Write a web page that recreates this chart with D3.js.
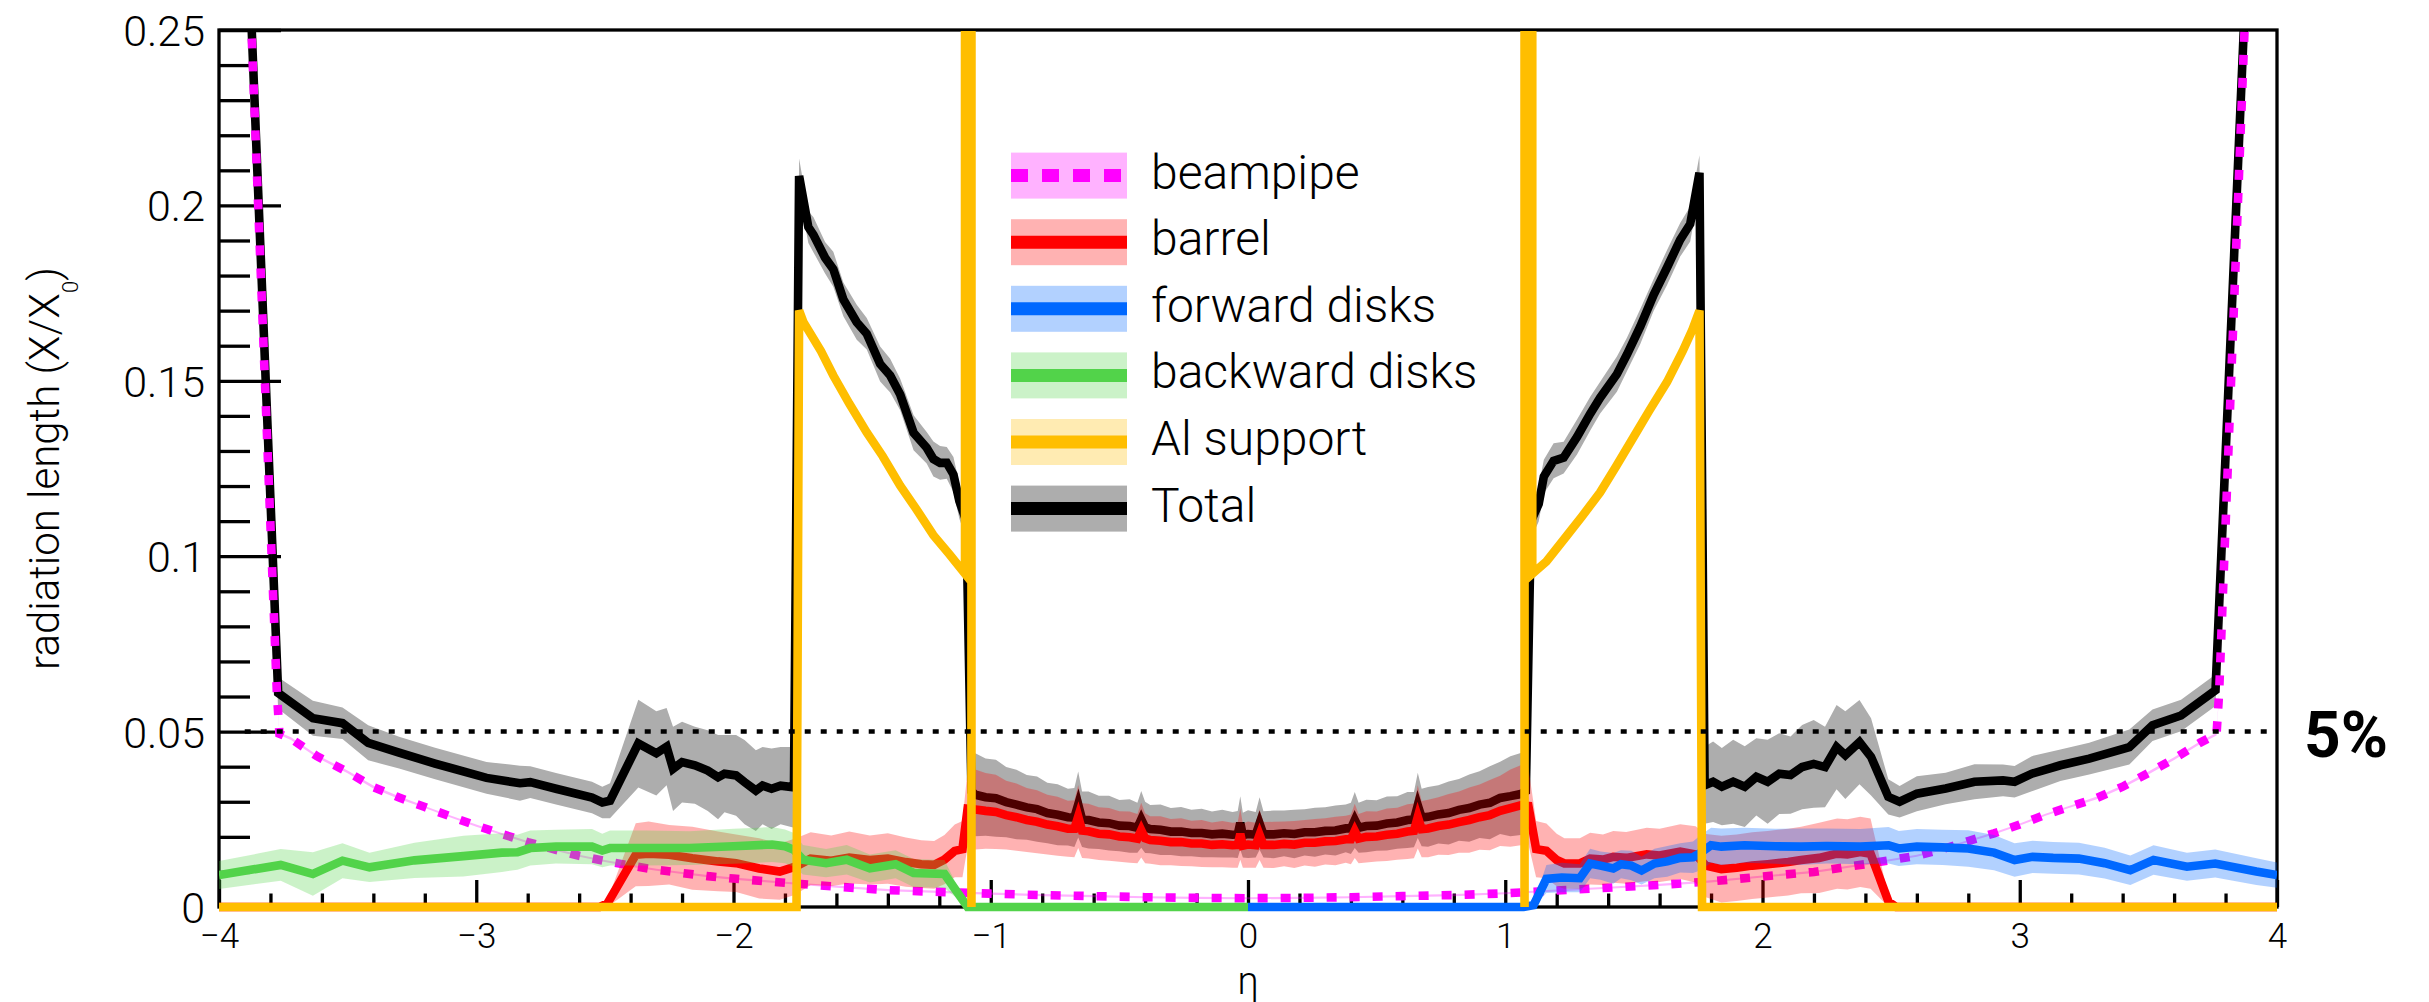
<!DOCTYPE html>
<html>
<head>
<meta charset="utf-8">
<script src="https://cdn.jsdelivr.net/npm/d3@7"></script>
<style>
  html, body { margin: 0; padding: 0; background: #fff; }
  svg { display: block; }
  text { font-family: Roboto, "Liberation Sans", Arial, sans-serif; font-weight: 300; fill: #000; }
</style>
</head>
<body>
<svg id="chart" width="2429" height="1002"></svg>
<script>
// ---------------- axis ticks ----------------
const etaTicks = [-4, -3, -2, -1, 0, 1, 2, 3, 4];
const etaTickLabels = ["\u22124", "\u22123", "\u22122", "\u22121", "0", "1", "2", "3", "4"];
const radTicks = [0, 0.05, 0.1, 0.15, 0.2, 0.25];
const radTickLabels = ["0", "0.05", "0.1", "0.15", "0.2", "0.25"];
const refLevel = 0.05;

const seriesNames = ["beampipe", "barrel", "forward disks", "backward disks", "Al support", "Total"];

// ---------------- central eta bins (|eta| < 1.06) ----------------
const etaCentral = [-1.06,-1.02,-0.98,-0.94,-0.90,-0.86,-0.82,-0.78,-0.74,-0.70,-0.675,-0.66,-0.645,-0.62,-0.58,-0.54,-0.50,-0.46,-0.43,-0.415,-0.40,-0.38,-0.34,-0.30,-0.26,-0.22,-0.18,-0.14,-0.10,-0.06,-0.04,-0.03,-0.02,0.00,0.03,0.045,0.06,0.10,0.14,0.18,0.22,0.26,0.30,0.34,0.38,0.40,0.415,0.43,0.46,0.50,0.54,0.58,0.62,0.645,0.66,0.675,0.70,0.74,0.78,0.82,0.86,0.90,0.94,0.98,1.02,1.06];
const totalCentral = [.0320,.0313,.0310,.0299,.0292,.0284,.0279,.0268,.0263,.0256,.0255,.0292,.0250,.0248,.0241,.0239,.0232,.0231,.0226,.0250,.0227,.0222,.0220,.0215,.0215,.0211,.0211,.0207,.0209,.0206,.0207,.0240,.0205,.0208,.0206,.0238,.0207,.0207,.0210,.0208,.0213,.0213,.0217,.0218,.0224,.0224,.0248,.0226,.0231,.0232,.0238,.0241,.0248,.0249,.0290,.0255,.0257,.0264,.0268,.0277,.0282,.0292,.0297,.0311,.0316,.0322];
const totalErrCentral = [.0118,.0110,.0110,.0100,.0099,.0092,.0093,.0086,.0087,.0081,.0084,.0094,.0079,.0081,.0076,.0078,.0073,.0076,.0071,.0081,.0073,.0069,.0072,.0067,.0070,.0066,.0069,.0065,.0068,.0065,.0067,.0076,.0064,.0068,.0065,.0075,.0066,.0068,.0065,.0069,.0066,.0070,.0067,.0071,.0068,.0073,.0080,.0071,.0075,.0072,.0077,.0075,.0080,.0079,.0093,.0082,.0085,.0083,.0090,.0088,.0096,.0095,.0104,.0103,.0114,.0117];
const barrelCentral = [.0278,.0274,.0271,.0262,.0256,.0248,.0243,.0235,.0230,.0223,.0223,.0258,.0218,.0216,.0209,.0207,.0201,.0199,.0195,.0219,.0196,.0191,.0189,.0185,.0185,.0181,.0181,.0177,.0179,.0176,.0177,.0208,.0175,.0178,.0176,.0206,.0177,.0177,.0180,.0178,.0183,.0183,.0187,.0188,.0193,.0193,.0217,.0195,.0200,.0201,.0206,.0209,.0215,.0217,.0257,.0222,.0224,.0231,.0235,.0242,.0248,.0256,.0262,.0274,.0282,.0290];
const barrelErrCentral = [.0114,.0108,.0106,.0098,.0096,.0091,.0090,.0085,.0084,.0080,.0081,.0090,.0078,.0078,.0075,.0075,.0072,.0073,.0070,.0078,.0071,.0068,.0070,.0066,.0068,.0065,.0067,.0064,.0066,.0064,.0065,.0073,.0063,.0066,.0064,.0072,.0065,.0066,.0064,.0067,.0065,.0068,.0066,.0069,.0067,.0071,.0077,.0070,.0073,.0071,.0075,.0074,.0078,.0078,.0090,.0080,.0082,.0082,.0087,.0087,.0093,.0093,.0100,.0100,.0110,.0114];

// ---------------- Total ----------------
const totalEta = [
  -3.90,-3.77,-3.635,-3.52,-3.42,-3.30,-3.16,-2.96,-2.83,-2.79,-2.69,-2.55,-2.51,-2.48,
  -2.37,-2.30,-2.26,-2.235,-2.20,-2.15,-2.10,-2.06,-2.035,-1.99,-1.957,-1.913,-1.887,-1.852,-1.817,-1.765,
  -1.745,-1.709,-1.689,-1.644,-1.612,-1.573,-1.521,-1.482,-1.430,-1.391,-1.352,-1.300,-1.249,-1.223,-1.197,-1.171,-1.145,-1.122,-1.095,-1.075,
  ...etaCentral,
  1.08,1.10,1.13,1.15,1.188,1.227,1.279,1.331,1.369,1.434,1.473,1.525,1.577,1.629,1.680,1.719,1.755,
  1.775,1.808,1.842,1.886,1.931,1.976,2.020,2.065,2.109,2.154,2.199,2.243,2.288,2.322,2.377,2.422,
  2.489,2.533,2.600,2.712,2.824,2.935,2.980,3.047,3.158,3.270,3.426,3.516,3.627,3.761,3.90];
const total = [
  0.300,0.0610,0.0538,0.0524,0.0468,0.0440,0.0409,0.0368,0.0353,0.0356,0.0337,0.0312,0.0298,0.0303,
  0.0466,0.0438,0.0457,0.0394,0.0413,0.0404,0.0389,0.0370,0.0380,0.0375,0.0356,0.0332,0.0346,0.0337,0.0346,0.0341,
  0.2084,0.1938,0.1916,0.1851,0.1818,0.1732,0.1667,0.1634,0.1548,0.1515,0.1461,0.1352,0.1309,0.1277,0.1266,0.1266,0.1233,0.1157,0.1100,0.0330,
  ...totalCentral,
  0.0330,0.1100,0.1149,0.1227,0.1272,0.1281,0.1340,0.1407,0.1452,0.1519,0.1575,0.1655,0.1745,0.1823,0.1902,0.1947,0.2093,
  0.0347,0.0357,0.0343,0.0357,0.0343,0.0371,0.0357,0.0380,0.0376,0.0399,0.0408,0.0399,0.0456,0.0433,0.0470,0.0428,
  0.0314,0.0300,0.0323,0.0338,0.0357,0.0361,0.0357,0.0380,0.0404,0.0423,0.0456,0.0518,0.0546,0.0618,0.300];
const totalErr = [
  0,0.0045,0.0050,0.0045,0.0050,0.0045,0.0045,0.0045,0.0050,0.0045,0.0045,0.0045,0.0045,0.0050,
  0.0125,0.0120,0.0110,0.0120,0.0115,0.0110,0.0115,0.0120,0.0110,0.0115,0.0120,0.0115,0.0110,0.0115,0.0110,0.0115,
  0.0050,0.0045,0.0050,0.0045,0.0050,0.0048,0.0050,0.0045,0.0050,0.0048,0.0045,0.0050,0.0045,0.0050,0.0048,0.0045,0.0050,0.0050,0.0050,0.0110,
  ...totalErrCentral,
  0.0110,0.0050,0.0050,0.0048,0.0050,0.0045,0.0050,0.0048,0.0045,0.0050,0.0048,0.0050,0.0045,0.0050,0.0048,0.0050,0.0050,
  0.0110,0.0115,0.0110,0.0120,0.0115,0.0110,0.0120,0.0115,0.0110,0.0120,0.0125,0.0115,0.0120,0.0125,0.0120,0.0110,
  0.0050,0.0045,0.0050,0.0045,0.0050,0.0045,0.0045,0.0050,0.0045,0.0045,0.0050,0.0045,0.0045,0.0045,0];

// ---------------- beampipe ----------------
const beampipeEta = [-3.90,-3.775,-3.765,-3.72,-3.62,-3.50,-3.40,-3.30,-3.20,-3.10,-3.00,-2.90,-2.80,-2.70,-2.60,-2.50,-2.40,-2.30,-2.20,-2.10,-2.00,-1.80,-1.60,-1.40,-1.20,-1.00,-0.80,-0.60,-0.40,-0.20,0.00,0.20,0.40,0.60,0.80,1.00,1.20,1.40,1.60,1.80,2.00,2.20,2.40,2.60,2.70,2.80,2.90,3.00,3.10,3.20,3.30,3.40,3.50,3.60,3.70,3.765,3.775,3.90];
const beampipe = [0.300,0.0610,0.0494,0.0480,0.0430,0.0385,0.0342,0.0312,0.0285,0.0258,0.0232,0.0208,0.0185,0.0165,0.0146,0.0131,0.0118,0.0106,0.0097,0.0088,0.0081,0.0069,0.0058,0.0048,0.0043,0.0038,0.0034,0.0031,0.0028,0.0026,0.0025,0.0026,0.0028,0.0031,0.0034,0.0039,0.0047,0.0055,0.0063,0.0073,0.0087,0.0100,0.0122,0.0146,0.0165,0.0188,0.0210,0.0235,0.0263,0.0287,0.0311,0.0343,0.0382,0.0423,0.0468,0.0493,0.0610,0.300];
const beampipeErr = [0,0.0004,0.0004,0.0004,0.0004,0.0004,0.0004,0.0004,0.0003,0.0003,0.0003,0.0003,0.0003,0.0003,0.0003,0.0003,0.0003,0.0003,0.0003,0.0003,0.0003,0.0003,0.0003,0.0003,0.0003,0.0003,0.0003,0.0003,0.0003,0.0003,0.0003,0.0003,0.0003,0.0003,0.0003,0.0003,0.0003,0.0003,0.0003,0.0003,0.0003,0.0003,0.0003,0.0003,0.0003,0.0003,0.0003,0.0003,0.0003,0.0003,0.0004,0.0004,0.0004,0.0004,0.0004,0.0004,0.0004,0];

// ---------------- barrel ----------------
const barrelEta = [
  -4.00,-2.52,-2.49,-2.38,-2.33,-2.25,-2.16,-2.06,-1.99,-1.90,-1.82,-1.76,-1.70,-1.62,-1.55,-1.47,-1.40,-1.33,-1.27,-1.22,-1.18,-1.14,-1.11,-1.09,
  ...etaCentral,
  1.09,1.12,1.16,1.20,1.23,1.29,1.33,1.38,1.42,1.47,1.55,1.60,1.68,1.74,1.78,1.84,1.90,1.96,2.02,2.10,2.15,2.22,2.29,2.33,2.38,2.42,2.49,2.52,4.00];
const barrel = [
  0,0,0.0010,0.0149,0.0152,0.0149,0.0139,0.0130,0.0125,0.0110,0.0101,0.0115,0.0138,0.0132,0.0141,0.0134,0.0138,0.0128,0.0122,0.0120,0.0135,0.0160,0.0165,0.0280,
  ...barrelCentral,
  0.0288,0.0165,0.0160,0.0134,0.0124,0.0124,0.0138,0.0135,0.0143,0.0140,0.0150,0.0147,0.0158,0.0150,0.0118,0.0108,0.0112,0.0118,0.0122,0.0128,0.0134,0.0140,0.0152,0.0150,0.0157,0.0152,0.0015,0,0];
const barrelErr = [
  0,0,0.0010,0.0090,0.0092,0.0085,0.0090,0.0085,0.0082,0.0086,0.0080,0.0080,0.0075,0.0072,0.0074,0.0070,0.0072,0.0070,0.0068,0.0068,0.0070,0.0075,0.0080,0.0110,
  ...barrelErrCentral,
  0.0110,0.0080,0.0078,0.0075,0.0072,0.0072,0.0074,0.0072,0.0074,0.0074,0.0076,0.0076,0.0078,0.0080,0.0090,0.0095,0.0095,0.0095,0.0095,0.0095,0.0095,0.0100,0.0100,0.0100,0.0100,0.0100,0.0015,0,0];

// ---------------- forward disks ----------------
const forwardEta = [0.00,1.07,1.11,1.16,1.22,1.29,1.33,1.37,1.42,1.45,1.49,1.53,1.58,1.63,1.68,1.73,1.76,1.80,1.84,1.93,2.05,2.15,2.25,2.38,2.49,2.53,2.60,2.70,2.80,2.90,2.98,3.05,3.13,3.23,3.33,3.43,3.52,3.65,3.76,3.92,4.00];
const forward = [0,0,0.0005,0.0080,0.0084,0.0082,0.0124,0.0118,0.0110,0.0122,0.0118,0.0104,0.0124,0.0130,0.0140,0.0142,0.0155,0.0176,0.0172,0.0176,0.0173,0.0172,0.0174,0.0172,0.0176,0.0167,0.0172,0.0170,0.0167,0.0155,0.0134,0.0143,0.0140,0.0138,0.0125,0.0105,0.0134,0.0115,0.0124,0.0101,0.0091];
const forwardErr = [0,0,0.0005,0.0040,0.0042,0.0040,0.0042,0.0040,0.0044,0.0040,0.0042,0.0040,0.0042,0.0044,0.0042,0.0045,0.0050,0.0050,0.0052,0.0050,0.0050,0.0052,0.0050,0.0050,0.0052,0.0050,0.0050,0.0050,0.0052,0.0050,0.0048,0.0046,0.0045,0.0045,0.0044,0.0042,0.0042,0.0040,0.0040,0.0038,0.0036];

// ---------------- backward disks ----------------
const backwardEta = [-4.00,-3.76,-3.635,-3.52,-3.415,-3.24,-3.05,-2.90,-2.84,-2.79,-2.69,-2.55,-2.51,-2.48,-2.34,-2.17,-2.00,-1.85,-1.80,-1.765,-1.73,-1.64,-1.56,-1.47,-1.37,-1.30,-1.18,-1.09,0.00];
const backward = [0.0091,0.0120,0.0094,0.0132,0.0113,0.0133,0.0145,0.0155,0.0156,0.0168,0.0172,0.0172,0.0161,0.0168,0.0168,0.0168,0.0173,0.0178,0.0173,0.0163,0.0135,0.0125,0.0135,0.0110,0.0122,0.0097,0.0094,0,0];
const backwardErr = [0.0040,0.0045,0.0062,0.0050,0.0042,0.0050,0.0058,0.0055,0.0050,0.0050,0.0048,0.0050,0.0048,0.0050,0.0050,0.0048,0.0050,0.0050,0.0048,0.0048,0.0042,0.0040,0.0042,0.0040,0.0040,0.0040,0.0040,0,0];

// ---------------- Al support (no material in the gap between the cones) ----------------
const alEta = [-4.00,-1.755,-1.745,-1.728,-1.66,-1.612,-1.55,-1.482,-1.42,-1.352,-1.29,-1.223,-1.16,-1.10,-1.10,-1.075,-1.075,0.00,1.075,1.075,1.105,1.105,1.16,1.24,1.30,1.369,1.43,1.499,1.56,1.629,1.69,1.726,1.755,1.765,4.00];
const alSupport = [0,0,0.1700,0.1667,0.1585,0.1515,0.1435,0.1353,0.1285,0.1201,0.1135,0.1060,0.1005,0.0950,0.60,0.60,0,null,0,0.60,0.60,0.0950,0.0985,0.1059,0.1115,0.1182,0.1255,0.1340,0.1415,0.1497,0.1585,0.1643,0.1700,0,0];

// ---------------- layout ----------------
const svg = d3.select("#chart");
const X0 = 219, X1 = 2277, Y0 = 30, Y1 = 907;
const x = d3.scaleLinear().domain([-4, 4]).range([X0, X1]);
const y = d3.scaleLinear().domain([0, 0.25]).range([Y1, Y0]);
const FONT = 'Roboto, "Liberation Sans", Arial, sans-serif';

const col = {
  beampipe: "#ff00ff", barrel: "#ff0000", forward: "#0068ff",
  backward: "#52d34a", al: "#ffbe00", total: "#000000", totalBand: "#adadad"
};

svg.append("defs").append("clipPath").attr("id", "plotClip")
  .append("rect").attr("x", X0).attr("y", Y0 + 1).attr("width", X1 - X0).attr("height", Y1 - Y0 + 8);

// frame
svg.append("rect").attr("x", X0).attr("y", Y0).attr("width", X1 - X0).attr("height", Y1 - Y0)
  .attr("fill", "none").attr("stroke", "#000").attr("stroke-width", 3.3);

// y axis (ticks pointing into the frame)
const yMinor = d3.range(0.01, 0.25, 0.01).filter(v => Math.abs(v / 0.05 - Math.round(v / 0.05)) > 1e-6);
const yAxis = svg.append("g").attr("transform", `translate(${X0},0)`)
  .call(d3.axisLeft(y).tickValues(radTicks).tickFormat((d, i) => radTickLabels[i]).tickSize(-62).tickPadding(14));
yAxis.select(".domain").remove();
yAxis.selectAll("line").attr("stroke", "#000").attr("stroke-width", 3.3);
yAxis.selectAll("text").attr("font-size", 43).attr("font-family", FONT).attr("dy", "0.36em").attr("fill", "#000");
const yAxisMinor = svg.append("g").attr("transform", `translate(${X0},0)`)
  .call(d3.axisLeft(y).tickValues(yMinor).tickFormat("").tickSize(-31));
yAxisMinor.select(".domain").remove();
yAxisMinor.selectAll("line").attr("stroke", "#000").attr("stroke-width", 3.3);

// x axis
const xMinor = d3.range(-3.8, 4, 0.2).filter(v => Math.abs(v - Math.round(v)) > 1e-6);
const xAxis = svg.append("g").attr("transform", `translate(0,${Y1})`)
  .call(d3.axisBottom(x).tickValues(etaTicks).tickFormat((d, i) => etaTickLabels[i]).tickSize(-27).tickPadding(16));
xAxis.select(".domain").remove();
xAxis.selectAll("line").attr("stroke", "#000").attr("stroke-width", 3.3);
xAxis.selectAll("text").attr("font-size", 35).attr("font-family", FONT).attr("fill", "#000");
const xAxisMinor = svg.append("g").attr("transform", `translate(0,${Y1})`)
  .call(d3.axisBottom(x).tickValues(xMinor).tickFormat("").tickSize(-13.5));
xAxisMinor.select(".domain").remove();
xAxisMinor.selectAll("line").attr("stroke", "#000").attr("stroke-width", 3.3);

// ---------------- series ----------------
const plot = svg.append("g").attr("clip-path", "url(#plotClip)");
const zip = (etas, vals, errs) => etas.map((eta, i) => ({ eta, v: vals[i], e: errs ? errs[i] : 0 }));
const band = d3.area().defined(d => d.v != null)
  .x(d => x(d.eta)).y0(d => y(d.v - d.e)).y1(d => y(d.v + d.e));
const curve = d3.line().defined(d => d.v != null)
  .x(d => x(d.eta)).y(d => y(d.v));
const LW = 8.6;

function drawSeries(data, lineColor, bandFill, bandOpacity, dash) {
  if (bandFill) {
    plot.append("path").datum(data).attr("d", band)
      .attr("fill", bandFill).attr("fill-opacity", bandOpacity).attr("stroke", "none");
  }
  const p = plot.append("path").datum(data).attr("d", curve)
    .attr("fill", "none").attr("stroke", lineColor).attr("stroke-width", LW);
  if (dash) p.attr("stroke-dasharray", dash);
}

drawSeries(zip(totalEta, total, totalErr), col.total, col.totalBand, 1);
drawSeries(zip(beampipeEta, beampipe, beampipeErr), col.beampipe, col.beampipe, 0.3, "10 13");
drawSeries(zip(barrelEta, barrel, barrelErr), col.barrel, col.barrel, 0.3);
drawSeries(zip(forwardEta, forward, forwardErr), col.forward, col.forward, 0.3);
drawSeries(zip(backwardEta, backward, backwardErr), col.backward, col.backward, 0.3);
drawSeries(zip(alEta, alSupport, null), col.al, null, 0);

// 5% reference line
svg.append("line")
  .attr("x1", x(-3.9)).attr("x2", x(3.97)).attr("y1", y(refLevel)).attr("y2", y(refLevel))
  .attr("stroke", "#000").attr("stroke-width", 4.5).attr("stroke-dasharray", "6 10");
svg.append("text").attr("x", 2304).attr("y", 757)
  .attr("font-family", '"Liberation Sans", Arial, sans-serif')
  .attr("font-size", 64).style("font-weight", 700)
  .text(Math.round(refLevel * 100) + "%");

// ---------------- legend ----------------
const legendStyles = [
  { line: col.beampipe, box: col.beampipe, op: 0.3, dash: "17 14" },
  { line: col.barrel, box: col.barrel, op: 0.3 },
  { line: col.forward, box: col.forward, op: 0.3 },
  { line: col.backward, box: col.backward, op: 0.3 },
  { line: col.al, box: col.al, op: 0.3 },
  { line: col.total, box: col.totalBand, op: 1 }
];
const lg = svg.append("g");
seriesNames.forEach((name, i) => {
  const cy = 175.6 + i * 66.6;
  const st = legendStyles[i];
  lg.append("rect").attr("x", 1011).attr("y", cy - 23).attr("width", 116).attr("height", 46)
    .attr("fill", st.box).attr("fill-opacity", st.op);
  const l = lg.append("line").attr("x1", 1011).attr("x2", 1127).attr("y1", cy).attr("y2", cy)
    .attr("stroke", st.line).attr("stroke-width", 13);
  if (st.dash) l.attr("stroke-dasharray", st.dash);
  lg.append("text").attr("x", 1151).attr("y", cy + 13).attr("font-size", 48).text(name);
});

// ---------------- axis titles ----------------
svg.append("text").attr("x", x(0)).attr("y", 994).attr("text-anchor", "middle")
  .attr("font-size", 38).text("\u03b7");

const yt = svg.append("text").attr("transform", `translate(59,${(Y0 + Y1) / 2}) rotate(-90)`)
  .attr("text-anchor", "middle").attr("font-size", 42);
yt.append("tspan").text("radiation length (X/X");
yt.append("tspan").attr("font-size", 22).attr("dy", 19).text("0");
yt.append("tspan").attr("dy", -19).text(")");
</script>
</body>
</html>
